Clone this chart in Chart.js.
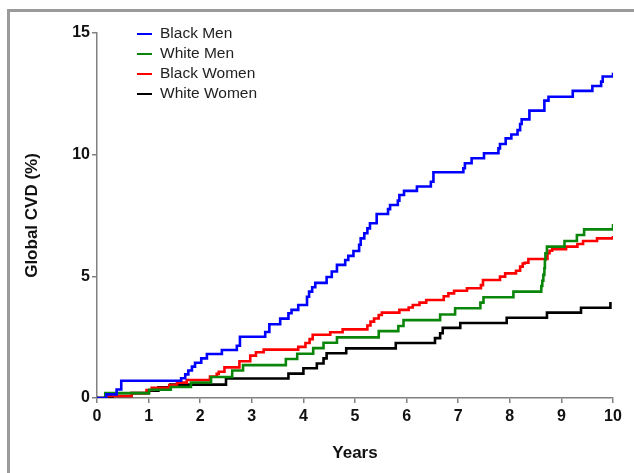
<!DOCTYPE html>
<html>
<head>
<meta charset="utf-8">
<script src="https://cdn.jsdelivr.net/npm/chart.js@4.4.0/dist/chart.umd.min.js"></script>
<style>
    html, body { margin: 0; padding: 0; background: #fff; }
    #frame { position: absolute; left: 7px; top: 9px; right: 0; bottom: 0; border-top: 3px solid #9b9b9b; border-left: 3px solid #9b9b9b; }
    #wrap { position: absolute; left: 0; top: 0; width: 634px; height: 473px; }
</style>
</head>
<body>
<div id="frame"></div>
<div id="wrap"><canvas id="cvdChart" width="634" height="473"></canvas></div>
<script>
const FONT = "'Liberation Sans', Arial, Helvetica, sans-serif";

// series names and colours
const seriesLabels = ['Black Men', 'White Men', 'Black Women', 'White Women'];
const seriesColors = ['#0000ff', '#0a870a', '#ff0000', '#000000'];

// cumulative incidence steps: [years, percent]
const blackMen = [[0,0],[0.18,0.15],[0.38,0.35],[0.47,0.71],[1.63,0.81],[1.71,0.97],[1.77,1.13],[1.84,1.29],[1.90,1.45],
    [2.02,1.63],[2.13,1.81],[2.42,1.97],[2.71,2.15],[2.77,2.52],[3.26,2.71],[3.34,3.03],[3.55,3.26],[3.71,3.48],
    [3.77,3.62],[3.90,3.82],[4.07,4.16],[4.11,4.37],[4.17,4.55],[4.23,4.73],[4.45,4.97],[4.55,5.2],[4.65,5.47],
    [4.81,5.67],[4.87,5.84],[4.97,6.04],[5.08,6.3],[5.11,6.56],[5.18,6.77],[5.24,6.97],[5.29,7.18],[5.42,7.56],
    [5.64,7.76],[5.68,7.93],[5.83,8.11],[5.86,8.34],[5.95,8.51],[6.20,8.69],[6.47,8.89],[6.52,9.28],[7.10,9.44],
    [7.13,9.65],[7.26,9.85],[7.50,10.06],[7.78,10.26],[7.81,10.44],[7.92,10.67],[8.03,10.83],[8.15,11.01],
    [8.20,11.26],[8.23,11.45],[8.38,11.81],[8.67,12.22],[8.75,12.38],[9.22,12.62],[9.60,12.82],[9.77,13.0],
    [9.80,13.21],[10.0,13.37]];
const whiteMen = [[0,0],[0.16,0.2],[1.01,0.34],[1.43,0.45],[1.82,0.64],[2.21,0.86],[2.62,1.13],[2.83,1.35],
    [3.66,1.60],[3.88,1.82],[4.19,2.05],[4.39,2.27],[4.65,2.49],[5.46,2.75],[5.84,2.96],[5.94,3.2],[6.65,3.43],
    [6.94,3.69],[7.43,3.92],[7.49,4.14],[8.07,4.37],[8.61,4.60],[8.63,4.82],[8.65,5.06],[8.67,5.33],[8.68,5.67],
    [8.69,5.95],[8.72,6.22],[9.06,6.45],[9.30,6.70],[9.44,6.93],[10.0,7.15]];
const blackWomen = [[0,0],[0.19,0.08],[0.67,0.2],[0.96,0.33],[1.06,0.42],[1.40,0.53],[1.55,0.63],[1.74,0.74],
    [2.19,0.88],[2.32,0.99],[2.36,1.08],[2.47,1.26],[2.76,1.51],[2.97,1.74],[3.08,1.88],[3.23,1.99],[3.90,2.10],
    [4.04,2.26],[4.12,2.42],[4.18,2.60],[4.52,2.70],[4.76,2.82],[5.24,2.98],[5.30,3.14],[5.37,3.27],[5.46,3.41],
    [5.52,3.51],[5.86,3.62],[6.04,3.72],[6.12,3.82],[6.25,3.92],[6.38,4.03],[6.72,4.18],[6.81,4.30],[6.92,4.41],
    [7.17,4.51],[7.44,4.64],[7.48,4.85],[7.81,4.99],[7.91,5.12],[8.12,5.23],[8.20,5.40],[8.25,5.53],[8.29,5.56],
    [8.36,5.71],[8.73,5.95],[8.77,6.05],[8.82,6.11],[9.09,6.22],[9.31,6.33],[9.42,6.45],[9.69,6.56],[10.0,6.66]];
const whiteWomen = [[0,0],[0.30,0.08],[0.67,0.2],[1.00,0.30],[1.19,0.44],[1.42,0.55],[2.50,0.80],[3.71,1.0],
    [4.0,1.22],[4.26,1.42],[4.39,1.63],[4.45,1.84],[4.83,2.04],[5.79,2.26],[6.55,2.46],[6.65,2.66],[6.70,2.88],
    [7.04,3.08],[7.94,3.30],[8.72,3.51],[9.38,3.71],[9.95,3.95]];

const xTicks = [0, 1, 2, 3, 4, 5, 6, 7, 8, 9, 10];
const yTicks = [0, 5, 10, 15];

const allSeries = [blackMen, whiteMen, blackWomen, whiteWomen];

// legend drawn inside the plot, top left
const insideLegend = {
    id: 'insideLegend',
    afterDatasetsDraw(chart) {
        const ctx = chart.ctx;
        const area = chart.chartArea;
        ctx.save();
        ctx.font = '15.5px ' + FONT;
        ctx.textBaseline = 'middle';
        chart.data.datasets.forEach((ds, i) => {
            const x = area.left + 40;
            const y = area.top + 1 + i * 20;
            ctx.strokeStyle = ds.borderColor;
            ctx.lineWidth = 2;
            ctx.beginPath();
            ctx.moveTo(x, y);
            ctx.lineTo(x + 15, y);
            ctx.stroke();
            ctx.fillStyle = '#222';
            ctx.fillText(ds.label, x + 23, y);
        });
        ctx.restore();
    }
};

const axisColor = '#808080';

new Chart(document.getElementById('cvdChart'), {
    type: 'line',
    data: {
        datasets: allSeries.map((s, i) => ({
            label: seriesLabels[i],
            data: s.map(p => ({ x: p[0], y: p[1] })),
            borderColor: seriesColors[i],
            borderWidth: 2.6,
            stepped: true,
            pointRadius: 0,
            fill: false
        }))
    },
    options: {
        responsive: false,
        animation: false,
        layout: { padding: { top: 33, right: 21, bottom: 0, left: 0 } },
        plugins: {
            legend: { display: false },
            tooltip: { enabled: false }
        },
        scales: {
            x: {
                type: 'linear',
                min: 0,
                max: 10,
                afterBuildTicks: s => { s.ticks = xTicks.map(v => ({ value: v })); },
                afterFit: s => { s.height = 75; },
                grid: { drawOnChartArea: false, drawTicks: true, tickLength: 5, color: axisColor, lineWidth: 1.5 },
                border: { color: axisColor, width: 1.5 },
                ticks: { color: '#111', padding: 4, maxRotation: 0, font: { family: FONT, size: 16, weight: 'bold' } },
                title: { display: true, text: 'Years', color: '#111', padding: { top: 0, bottom: 9 },
                         font: { family: FONT, size: 17, weight: 'bold' } }
            },
            y: {
                min: 0,
                max: 15,
                afterBuildTicks: s => { s.ticks = yTicks.map(v => ({ value: v })); },
                afterFit: s => { s.width = 97; },
                grid: { drawOnChartArea: false, drawTicks: true, tickLength: 5, color: axisColor, lineWidth: 1.5 },
                border: { color: axisColor, width: 1.5 },
                ticks: { color: '#111', padding: 2, font: { family: FONT, size: 16, weight: 'bold' } },
                title: { display: true, text: 'Global CVD (%)', color: '#111', padding: { top: 22, bottom: 0 },
                         font: { family: FONT, size: 17, weight: 'bold' } }
            }
        }
    },
    plugins: [insideLegend]
});
</script>
</body>
</html>
